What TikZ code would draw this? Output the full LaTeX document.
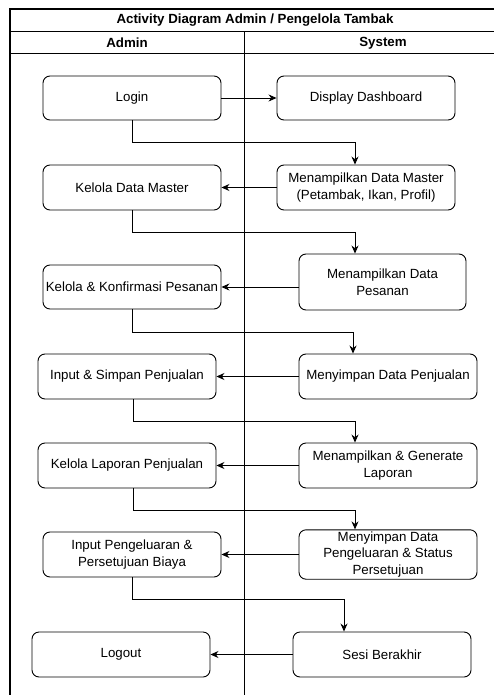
\documentclass[tikz,border=0pt]{standalone}
\usepackage{fontspec}
\setmainfont{Liberation Sans}
\usetikzlibrary{arrows.meta}

\begin{document}
\begin{tikzpicture}[x=1pt, y=-1pt,
    act/.style={draw, rounded corners=7pt, minimum width=178pt, minimum height=45pt,
        align=center, inner sep=2pt, line width=0.9pt,
        font=\fontsize{13.3}{16.5}\selectfont},
    flow/.style={-{Stealth[length=8pt,width=7pt]}, line width=0.9pt},
    lanetitle/.style={font=\bfseries\fontsize{13.3}{16}\selectfont}]
    \useasboundingbox (0,0) rectangle (494,695);

    % pool & lanes
    \draw[line width=1.2pt] (10,710) -- (10,9) -- (520,9);
    \draw[line width=1pt] (10,32) -- (520,32);
    \draw[line width=1pt] (10,54) -- (520,54);
    \draw[line width=1pt] (244,32) -- (244,710);
    \node[lanetitle] (title) at (255,20.5) {Activity Diagram Admin / Pengelola Tambak};
    \node[lanetitle] (admin) at (127,43) {Admin};
    \node[lanetitle] (system) at (383,43) {System};

    % admin activities
    \node[act, minimum height=44pt] (login) at (132,98) {Login};
    \node[act] (kdm) at (132,187.5) {Kelola Data Master};
    \node[act, minimum height=44pt] (kk) at (132,287) {Kelola \& Konfirmasi Pesanan};
    \node[act] (isp) at (127,376.5) {Input \& Simpan Penjualan};
    \node[act] (klp) at (127,465.5) {Kelola Laporan Penjualan};
    \node[act] (ipb) at (132,554.5) {Input Pengeluaran \&\\Persetujuan Biaya};
    \node[act] (logout) at (121,654.5) {Logout};

    % system activities
    \node[act, minimum height=44pt] (dash) at (366,98) {Display Dashboard};
    \node[act] (dm) at (366,187.5) {Menampilkan Data Master\\(Petambak, Ikan, Profil)};
    \node[act, minimum width=167pt, minimum height=56pt] (mp) at (382.5,282) {Menampilkan Data\\Pesanan};
    \node[act] (mdp) at (388,376.5) {Menyimpan Data Penjualan};
    \node[act] (mg) at (388,465.5) {Menampilkan \& Generate\\Laporan};
    \node[act] (mpg) at (388,554.5) {Menyimpan Data\\Pengeluaran \& Status\\Persetujuan};
    \node[act] (sb) at (382,654.5) {Sesi Berakhir};

    % flow
    \draw[flow] (login) -- (dash);
    \draw[flow] (login.south) -- ++(0,22) -| ([xshift=-11pt]dm.north);
    \draw[flow] (dm) -- (kdm);
    \draw[flow] (kdm.south) -- ++(0,22) -| ([xshift=-27.5pt]mp.north);
    \draw[flow] (mp.west |- kk.east) -- (kk.east);
    \draw[flow] (kk.south) -- ++(0,23) -| ([xshift=-35pt]mdp.north);
    \draw[flow] (mdp) -- (isp);
    \draw[flow] ([xshift=6pt]isp.south) -- ++(0,22) -| ([xshift=-33pt]mg.north);
    \draw[flow] (mg) -- (klp);
    \draw[flow] ([xshift=6pt]klp.south) -- ++(0,22) -| ([xshift=-33pt]mpg.north);
    \draw[flow] (mpg) -- (ipb);
    \draw[flow] (ipb.south) -- ++(0,22) -| ([xshift=-38pt]sb.north);
    \draw[flow] (sb) -- (logout);
\end{tikzpicture}
\end{document}
